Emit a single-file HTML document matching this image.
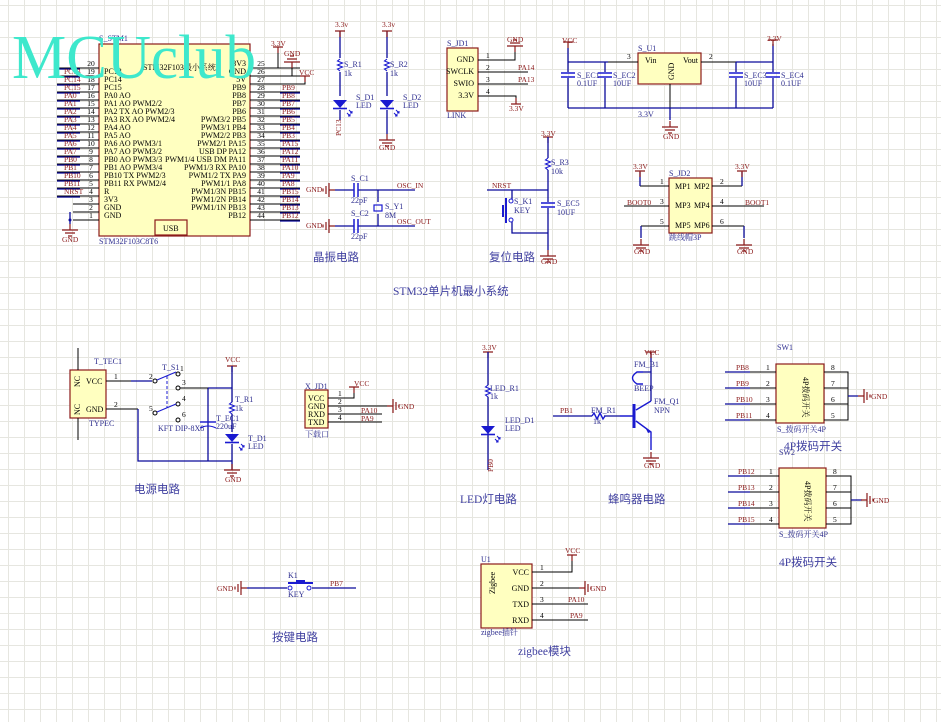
<!DOCTYPE html>
<html><head><meta charset="utf-8"><style>
html,body{margin:0;padding:0;background:#fff}
svg{display:block}
text{font-family:"Liberation Serif","Noto Serif CJK SC",serif;}
.d{fill:#303090;font-size:8px}
.r{fill:#8b1a1a;font-size:7.5px}
.k{fill:#000;font-size:7.5px}
.b{fill:#000;font-size:8px}
.cap{fill:#4040a0;font-size:11.5px;font-family:"Liberation Serif","Noto Sans CJK SC",sans-serif}
.w{stroke:#0a0a9a;stroke-width:1.3;fill:none}
.p{stroke:#000;stroke-width:1;fill:none}
.rd{stroke:#8b1a1a;stroke-width:1.2;fill:none}
.c{stroke:#1a1ad0;stroke-width:1.4;fill:none}
.box{fill:#ffffc0;stroke:#8b1a1a;stroke-width:1.2}
</style></head><body>
<svg width="941" height="722" viewBox="0 0 941 722" xmlns="http://www.w3.org/2000/svg">
<defs>
<pattern id="g" x="8" y="5" width="16" height="16" patternUnits="userSpaceOnUse">
<path d="M0 0.5H16M0.5 0V16" stroke="#e6e6e0" stroke-width="1" fill="none"/>
</pattern>
<g id="gnd"><path d="M0 -6V0M-8 0H8M-5 3H5M-2 6H2" stroke="#8b1a1a" stroke-width="1.2" fill="none"/></g>
<g id="gndl"><path d="M6 0H0M0 -7V7M-3 -4V4M-6 -1.5V1.5" stroke="#8b1a1a" stroke-width="1.2" fill="none"/></g>
<g id="gndr"><path d="M-6 0H0M0 -7V7M3 -4V4M6 -1.5V1.5" stroke="#8b1a1a" stroke-width="1.2" fill="none"/></g>
<g id="pwr"><path d="M-5 0H5M0 0V6" stroke="#8b1a1a" stroke-width="1.2" fill="none"/></g>
<g id="resv"><path d="M0 -6L-2.5 -4L2.5 -2L-2.5 0L2.5 2L-2.5 4L0 6" stroke="#1a1ad0" stroke-width="1.1" fill="none"/></g>
<g id="ledd"><path d="M-7 -4H7L0 4Z" fill="#1a1ad0"/><path d="M-7 4.5H7" stroke="#1a1ad0" stroke-width="1.6"/><path d="M9 6l3 3M12 7v2h-2M7 9l3 3M10 10v2h-2" stroke="#1a1ad0" stroke-width="1"/></g>
<g id="capv"><path d="M-7 -2H7M-7 2H7" stroke="#1a1ad0" stroke-width="1.5"/></g>
<g id="caph"><path d="M-2 -7V7M2 -7V7" stroke="#1a1ad0" stroke-width="1.5"/></g>
</defs>
<rect width="941" height="722" fill="#fff"/>
<rect width="941" height="722" fill="url(#g)"/>

<!-- STM32 -->
<rect class="box" x="99" y="44" width="151" height="192"/>
<rect class="box" x="155" y="220" width="32" height="15"/>
<text class="b" x="163" y="231">USB</text>
<text class="d" x="99" y="41">S_STM1</text>
<text class="d" x="99" y="244">STM32F103C8T6</text>
<text class="b" x="143" y="70">STM32F103最小系统</text>
<g class="p">
<path d="M57 68H99M57 76H99M57 84H99M57 92H99M57 100H99M57 108H99M57 116H99M57 124H99M57 132H99M57 140H99M57 148H99M57 156H99M57 164H99M57 172H99M57 180H99M57 188H99M57 196H99M73 204H99M73 212H99M73 220H99"/>
<path d="M250 68H300M250 76H300M250 84H300M250 92H300M250 100H300M250 108H300M250 116H300M250 124H300M250 132H300M250 140H300M250 148H300M250 156H300M250 164H300M250 172H300M250 180H300M250 188H300M250 196H300M250 204H300M250 212H300M250 220H300"/>
</g>
<g class="w"><path d="M57 69H80M57 77H80M57 85H80M57 93H80M57 101H80M57 109H80M57 117H80M57 125H80M57 133H80M57 141H80M57 149H80M57 157H80M57 165H80M57 173H80M57 181H80M57 189H80M57 197H80"/>
<path d="M280 93H300M280 101H300M280 109H300M280 117H300M280 125H300M280 133H300M280 141H300M280 149H300M280 157H300M280 165H300M280 173H300M280 181H300M280 189H300M280 197H300M280 205H300M280 213H300M280 221H300"/>
<path d="M70 212V220M70 220V224"/></g>
<path class="p" d="M250 68H278V48M250 76H292V64M250 84H305V76"/>
<use href="#pwr" x="278" y="47"/><text class="r" x="271" y="46">3.3V</text>
<g transform="translate(292,62) rotate(180)"><use href="#gnd"/></g><text class="r" x="284" y="56">GND</text>
<use href="#pwr" x="305" y="76"/><text class="r" x="299" y="75">VCC</text>
<use href="#gnd" x="70" y="230"/><text class="r" x="62" y="242">GND</text>
<circle cx="70" cy="220" r="1.5" fill="#0a0a9a"/>
<g class="k" text-anchor="middle">
<text x="91" y="66">20</text><text x="91" y="74">19</text><text x="91" y="82">18</text><text x="91" y="90">17</text><text x="91" y="98">16</text><text x="91" y="106">15</text><text x="91" y="114">14</text><text x="91" y="122">13</text><text x="91" y="130">12</text><text x="91" y="138">11</text><text x="91" y="146">10</text><text x="91" y="154">9</text><text x="91" y="162">8</text><text x="91" y="170">7</text><text x="91" y="178">6</text><text x="91" y="186">5</text><text x="91" y="194">4</text><text x="91" y="202">3</text><text x="91" y="210">2</text><text x="91" y="218">1</text>
<text x="261" y="66">25</text><text x="261" y="74">26</text><text x="261" y="82">27</text><text x="261" y="90">28</text><text x="261" y="98">29</text><text x="261" y="106">30</text><text x="261" y="114">31</text><text x="261" y="122">32</text><text x="261" y="130">33</text><text x="261" y="138">34</text><text x="261" y="146">35</text><text x="261" y="154">36</text><text x="261" y="162">37</text><text x="261" y="170">38</text><text x="261" y="178">39</text><text x="261" y="186">40</text><text x="261" y="194">41</text><text x="261" y="202">42</text><text x="261" y="210">43</text><text x="261" y="218">44</text>
</g>
<g class="r">
<text x="64" y="74">PC13</text><text x="64" y="82">PC14</text><text x="64" y="90">PC15</text><text x="64" y="98">PA0</text><text x="64" y="106">PA1</text><text x="64" y="114">PA2</text><text x="64" y="122">PA3</text><text x="64" y="130">PA4</text><text x="64" y="138">PA5</text><text x="64" y="146">PA6</text><text x="64" y="154">PA7</text><text x="64" y="162">PB0</text><text x="64" y="170">PB1</text><text x="64" y="178">PB10</text><text x="64" y="186">PB11</text><text x="64" y="194">NRST</text>
<text x="282" y="90">PB9</text><text x="282" y="98">PB8</text><text x="282" y="106">PB7</text><text x="282" y="114">PB6</text><text x="282" y="122">PB5</text><text x="282" y="130">PB4</text><text x="282" y="138">PB3</text><text x="282" y="146">PA15</text><text x="282" y="154">PA12</text><text x="282" y="162">PA11</text><text x="282" y="170">PA10</text><text x="282" y="178">PA9</text><text x="282" y="186">PA8</text><text x="282" y="194">PB15</text><text x="282" y="202">PB14</text><text x="282" y="210">PB13</text><text x="282" y="218">PB12</text>
</g>
<g class="b">
<text x="104" y="74">PC13</text><text x="104" y="82">PC14</text><text x="104" y="90">PC15</text><text x="104" y="98">PA0 AO</text><text x="104" y="106">PA1 AO PWM2/2</text><text x="104" y="114">PA2 TX AO PWM2/3</text><text x="104" y="122">PA3 RX AO PWM2/4</text><text x="104" y="130">PA4 AO</text><text x="104" y="138">PA5 AO</text><text x="104" y="146">PA6 AO PWM3/1</text><text x="104" y="154">PA7 AO PWM3/2</text><text x="104" y="162">PB0 AO PWM3/3</text><text x="104" y="170">PB1 AO PWM3/4</text><text x="104" y="178">PB10 TX PWM2/3</text><text x="104" y="186">PB11 RX PWM2/4</text><text x="104" y="194">R</text><text x="104" y="202">3V3</text><text x="104" y="210">GND</text><text x="104" y="218">GND</text>
</g>
<g class="b" text-anchor="end">
<text x="246" y="66">3V3</text><text x="246" y="74">GND</text><text x="246" y="82">5V</text><text x="246" y="90">PB9</text><text x="246" y="98">PB8</text><text x="246" y="106">PB7</text><text x="246" y="114">PB6</text><text x="246" y="122">PWM3/2 PB5</text><text x="246" y="130">PWM3/1 PB4</text><text x="246" y="138">PWM2/2 PB3</text><text x="246" y="146">PWM2/1 PA15</text><text x="246" y="154">USB DP  PA12</text><text x="246" y="162">PWM1/4 USB DM PA11</text><text x="246" y="170">PWM1/3 RX PA10</text><text x="246" y="178">PWM1/2 TX PA9</text><text x="246" y="186">PWM1/1 PA8</text><text x="246" y="194">PWM1/3N PB15</text><text x="246" y="202">PWM1/2N PB14</text><text x="246" y="210">PWM1/1N PB13</text><text x="246" y="218">PB12</text>
</g>
<text x="12" y="78" font-family="Liberation Sans,sans-serif" font-size="62" fill="#3ee8cc" textLength="244" lengthAdjust="spacingAndGlyphs">MCUclub</text>

<!-- LEDs -->
<path class="w" d="M340 31V58M340 72V96M340 110V120M387 31V58M387 72V96M387 110V134"/>
<use href="#pwr" x="340" y="31"/><use href="#pwr" x="387" y="31"/>
<text class="r" x="335" y="27">3.3v</text><text class="r" x="382" y="27">3.3v</text>
<use href="#resv" x="340" y="65"/><use href="#resv" x="387" y="65"/>
<text class="d" x="344" y="67">S_R1</text><text class="d" x="344" y="76">1k</text>
<text class="d" x="390" y="67">S_R2</text><text class="d" x="390" y="76">1k</text>
<use href="#ledd" x="340" y="104"/><use href="#ledd" x="387" y="104"/>
<text class="d" x="356" y="100">S_D1</text><text class="d" x="356" y="108">LED</text>
<text class="d" x="403" y="100">S_D2</text><text class="d" x="403" y="108">LED</text>
<text class="r" transform="translate(341,136) rotate(-90)">PC13</text>
<use href="#gnd" x="387" y="140"/><text class="r" x="379" y="150">GND</text>

<!-- S_JD1 -->
<rect class="box" x="447" y="48" width="31" height="63"/>
<text class="d" x="447" y="46">S_JD1</text><text class="d" x="447" y="118">LINK</text>
<g class="b" text-anchor="end" font-size="7.5"><text x="474" y="62">GND</text><text x="474" y="74">SWCLK</text><text x="474" y="86">SWIO</text><text x="474" y="98">3.3V</text></g>
<path class="p" d="M478 60H515V52M478 72H528M478 84H528M478 96H516V102"/>
<g class="k"><text x="486" y="58">1</text><text x="486" y="70">2</text><text x="486" y="82">3</text><text x="486" y="94">4</text></g>
<g transform="translate(515,46) rotate(180)"><use href="#gnd"/></g><text class="r" x="507" y="42">GND</text>
<text class="r" x="518" y="70">PA14</text><text class="r" x="518" y="82">PA13</text>
<g transform="translate(516,104) rotate(180)"><use href="#pwr"/></g><text class="r" x="509" y="111">3.3V</text>

<!-- Regulator -->
<rect class="box" x="638" y="53" width="63" height="31"/>
<text class="d" x="638" y="51">S_U1</text>
<text class="b" x="645" y="63">Vin</text><text class="b" x="683" y="63">Vout</text>
<text class="b" transform="translate(674,80) rotate(-90)">GND</text>
<path class="p" d="M608 62H638M701 62H736M670 84V108"/>
<text class="k" x="627" y="59">3</text><text class="k" x="709" y="59">2</text>
<path class="w" d="M568 48V62H608M568 62V72M568 78V108M605 62V72M605 78V108M568 108H773M736 62H773M736 62V72M736 78V108M773 44V72M773 78V108M670 108V120"/>
<use href="#pwr" x="568" y="42"/><text class="r" x="562" y="43">VCC</text>
<use href="#pwr" x="773" y="40"/><text class="r" x="767" y="41">3.3V</text>
<use href="#capv" x="568" y="75"/><use href="#capv" x="605" y="75"/><use href="#capv" x="736" y="75"/><use href="#capv" x="773" y="75"/>
<text class="d" x="577" y="78">S_EC1</text><text class="d" x="577" y="86">0.1UF</text>
<text class="d" x="613" y="78">S_EC2</text><text class="d" x="613" y="86">10UF</text>
<text class="d" x="744" y="78">S_EC3</text><text class="d" x="744" y="86">10UF</text>
<text class="d" x="781" y="78">S_EC4</text><text class="d" x="781" y="86">0.1UF</text>
<text class="d" x="638" y="117">3.3V</text>
<use href="#gnd" x="670" y="127"/><text class="r" x="663" y="139">GND</text>

<!-- S_JD2 -->
<rect class="box" x="669" y="178" width="43" height="55"/>
<text class="d" x="669" y="176">S_JD2</text><text class="d" x="669" y="240">跳线帽3P</text>
<g class="b" font-size="7.5"><text x="675" y="189">MP1</text><text x="694" y="189">MP2</text><text x="675" y="208">MP3</text><text x="694" y="208">MP4</text><text x="675" y="228">MP5</text><text x="694" y="228">MP6</text></g>
<path class="p" d="M640 186H669M712 186H742M624 206H669M712 206H764M641 226H669M712 226H744"/>
<path class="w" d="M640 172V186M742 172V186M641 226V238M744 226V238"/>
<g class="k"><text x="660" y="184">1</text><text x="720" y="184">2</text><text x="660" y="204">3</text><text x="720" y="204">4</text><text x="660" y="224">5</text><text x="720" y="224">6</text></g>
<use href="#pwr" x="640" y="171"/><text class="r" x="633" y="169">3.3V</text>
<use href="#pwr" x="742" y="171"/><text class="r" x="735" y="169">3.3V</text>
<text class="r" x="627" y="205">BOOT0</text><text class="r" x="745" y="205">BOOT1</text>
<use href="#gnd" x="641" y="245"/><text class="r" x="634" y="254">GND</text>
<use href="#gnd" x="744" y="245"/><text class="r" x="737" y="254">GND</text>

<!-- Crystal -->
<use href="#gndl" x="329" y="190"/><use href="#gndl" x="329" y="226"/>
<text class="r" x="306" y="192">GND</text><text class="r" x="306" y="228">GND</text>
<path class="w" d="M335 190H354M358 190H415M335 226H354M358 226H415M378 190V202M378 214V226"/>
<use href="#caph" x="356" y="190"/><use href="#caph" x="356" y="226"/>
<rect x="374" y="205" width="8" height="6" fill="none" stroke="#1a1ad0" stroke-width="1.2"/>
<text class="d" x="351" y="181">S_C1</text><text class="d" x="351" y="203">22pF</text>
<text class="d" x="351" y="216">S_C2</text><text class="d" x="351" y="239">22pF</text>
<text class="d" x="385" y="209">S_Y1</text><text class="d" x="385" y="218">8M</text>
<text class="r" x="397" y="188">OSC_IN</text><text class="r" x="397" y="224">OSC_OUT</text>
<text class="cap" x="313" y="261">晶振电路</text>

<!-- Reset -->
<use href="#pwr" x="548" y="137"/><text class="r" x="541" y="136">3.3V</text>
<path class="w" d="M548 137V158M548 170V202M548 208V250M487 190H548M512 190V199M512 222V233H548"/>
<use href="#resv" x="548" y="164"/>
<text class="d" x="551" y="165">S_R3</text><text class="d" x="551" y="174">10k</text>
<use href="#capv" x="548" y="205"/>
<text class="d" x="557" y="206">S_EC5</text><text class="d" x="557" y="215">10UF</text>
<circle cx="511" cy="201" r="2" fill="none" stroke="#1a1ad0"/><circle cx="511" cy="220" r="2" fill="none" stroke="#1a1ad0"/>
<path d="M506 198V223M503 205V217" stroke="#1a1ad0" stroke-width="2"/>
<text class="d" x="514" y="204">S_K1</text><text class="d" x="514" y="213">KEY</text>
<text class="r" x="492" y="188">NRST</text>
<use href="#gnd" x="548" y="256"/><text class="r" x="541" y="264">GND</text>
<text class="cap" x="489" y="261">复位电路</text>

<text class="cap" x="393" y="295" font-size="10.5" fill="#303090">STM32单片机最小系统</text>

<!-- Power -->
<rect class="box" x="70" y="370" width="36" height="48"/>
<text class="d" x="94" y="364">T_TEC1</text><text class="d" x="89" y="426">TYPEC</text>
<text class="b" x="86" y="384">VCC</text><text class="b" x="86" y="412">GND</text>
<text class="b" transform="translate(80,387) rotate(-90)" font-size="6.5">NC</text>
<text class="b" transform="translate(80,415) rotate(-90)" font-size="6.5">NC</text>
<path class="p" d="M78 348V370M78 418V440M106 381H131M106 409H138"/>
<text class="k" x="114" y="379">1</text><text class="k" x="114" y="407">2</text>
<path class="w" d="M131 381H152M138 409H138V461H232M208 388H232M208 388V461"/>
<circle cx="155" cy="381" r="2" fill="none" stroke="#000"/><circle cx="155" cy="413" r="2" fill="none" stroke="#000"/>
<circle cx="178" cy="374" r="2" fill="none" stroke="#000"/><circle cx="178" cy="388" r="2" fill="none" stroke="#000"/>
<circle cx="178" cy="404" r="2" fill="none" stroke="#000"/><circle cx="178" cy="420" r="2" fill="none" stroke="#000"/>
<path d="M157 380L176 372M157 412L176 404" stroke="#1a1ad0" stroke-width="1"/>
<path d="M167 376V408" stroke="#1a1ad0" stroke-dasharray="3,2"/>
<path class="p" d="M180 388H208"/>
<g class="k"><text x="180" y="371">1</text><text x="149" y="379">2</text><text x="182" y="385">3</text><text x="182" y="401">4</text><text x="149" y="411">5</text><text x="182" y="417">6</text></g>
<text class="d" x="162" y="370">T_S1</text>
<text class="d" x="158" y="431">KFT DIP-8X8</text>
<path d="M200 422H216" stroke="#1a1ad0" stroke-width="1.4"/><path d="M200 428Q208 424 216 428" stroke="#1a1ad0" fill="none"/>
<text class="d" x="216" y="421">T_EC1</text><text class="d" x="216" y="429">220uF</text>
<use href="#pwr" x="232" y="366"/><text class="r" x="225" y="362">VCC</text>
<path class="w" d="M232 366V402M232 414V432M232 444V470"/>
<use href="#resv" x="232" y="408"/>
<text class="d" x="235" y="402">T_R1</text><text class="d" x="235" y="411">1k</text>
<use href="#ledd" x="232" y="438"/>
<text class="d" x="248" y="441">T_D1</text><text class="d" x="248" y="449">LED</text>
<use href="#gnd" x="232" y="470"/><text class="r" x="225" y="482">GND</text>
<text class="cap" x="134" y="493">电源电路</text>

<!-- X_JD1 -->
<rect class="box" x="305" y="390" width="23" height="38"/>
<text class="d" x="305" y="389">X_JD1</text><text class="d" x="305" y="437">下载口</text>
<g class="b" font-size="7.5"><text x="308" y="401">VCC</text><text x="308" y="409">GND</text><text x="308" y="417">RXD</text><text x="308" y="425">TXD</text></g>
<path class="p" d="M328 398H354V388M328 406H392M328 414H382M328 422H382"/>
<g class="k"><text x="338" y="396">1</text><text x="338" y="404">2</text><text x="338" y="412">3</text><text x="338" y="420">4</text></g>
<use href="#pwr" x="354" y="387"/><text class="r" x="354" y="386">VCC</text>
<use href="#gndr" x="393" y="406"/><text class="r" x="398" y="409">GND</text>
<text class="r" x="361" y="413">PA10</text><text class="r" x="361" y="421">PA9</text>

<!-- LED circuit -->
<use href="#pwr" x="488" y="352"/><text class="r" x="482" y="350">3.3V</text>
<path class="w" d="M488 352V385M488 397V470"/>
<use href="#resv" x="488" y="391"/>
<text class="d" x="490" y="391">LED_R1</text><text class="d" x="490" y="399">1k</text>
<use href="#ledd" x="488" y="430"/>
<text class="d" x="505" y="423">LED_D1</text><text class="d" x="505" y="431">LED</text>
<text class="r" transform="translate(493,472) rotate(-90)">PB0</text>
<text class="cap" x="460" y="503">LED灯电路</text>

<!-- Buzzer -->
<text class="r" x="560" y="413">PB1</text>
<path class="w" d="M553 416H592M604 416H620M651 352V372M651 372H643M651 372V401"/>
<use href="#pwr" x="651" y="352"/><text class="r" x="644" y="355">VCC</text>
<path class="c" d="M592 416L594 413L597 419L600 413L603 419L605 416"/>
<text class="d" x="591" y="413">FM_R1</text><text class="d" x="593" y="424">1k</text>
<path d="M634 404V428" stroke="#1a1ad0" stroke-width="3"/>
<path class="c" d="M620 416H634M636 410L651 401M636 421L651 432V450"/>
<path d="M651 432L645 427L648 433Z" fill="#1a1ad0"/>
<path class="c" d="M643 372H637Q628 378 637 384H643"/>
<text class="d" x="634" y="367">FM_B1</text><text class="d" x="634" y="391">BEEP</text>
<text class="d" x="654" y="404">FM_Q1</text><text class="d" x="654" y="413">NPN</text>
<use href="#gnd" x="651" y="458"/><text class="r" x="644" y="468">GND</text>
<text class="cap" x="608" y="503">蜂鸣器电路</text>

<!-- SW1 -->
<rect class="box" x="776" y="364" width="48" height="59"/>
<text class="d" x="777" y="350">SW1</text><text class="d" x="777" y="432">S_拨码开关4P</text>
<text class="b" transform="translate(803,377) rotate(90)" font-size="7.5">4P拨码开关</text>
<path class="p" d="M750 372H776M750 388H776M750 404H776M750 420H776M824 372H848V420H824M824 388H848M824 404H848"/>
<path class="w" d="M725 372H750M725 388H750M725 404H750M725 420H750M848 396H858"/>
<g class="k"><text x="766" y="370">1</text><text x="766" y="386">2</text><text x="766" y="402">3</text><text x="766" y="418">4</text><text x="831" y="370">8</text><text x="831" y="386">7</text><text x="831" y="402">6</text><text x="831" y="418">5</text></g>
<g class="r"><text x="736" y="370">PB8</text><text x="736" y="386">PB9</text><text x="736" y="402">PB10</text><text x="736" y="418">PB11</text></g>
<use href="#gndr" x="864" y="396"/><text class="r" x="871" y="399">GND</text>
<text class="cap" x="784" y="450">4P拨码开关</text>
<!-- SW2 -->
<rect class="box" x="779" y="468" width="47" height="60"/>
<text class="d" x="779" y="455">SW2</text><text class="d" x="779" y="537">S_拨码开关4P</text>
<text class="b" transform="translate(805,481) rotate(90)" font-size="7.5">4P拨码开关</text>
<path class="p" d="M750 476H779M750 492H779M750 508H779M750 524H779M826 476H851V524H826M826 492H851M826 508H851"/>
<path class="w" d="M728 476H750M728 492H750M728 508H750M728 524H750M851 500H862"/>
<g class="k"><text x="769" y="474">1</text><text x="769" y="490">2</text><text x="769" y="506">3</text><text x="769" y="522">4</text><text x="833" y="474">8</text><text x="833" y="490">7</text><text x="833" y="506">6</text><text x="833" y="522">5</text></g>
<g class="r"><text x="738" y="474">PB12</text><text x="738" y="490">PB13</text><text x="738" y="506">PB14</text><text x="738" y="522">PB15</text></g>
<use href="#gndr" x="867" y="500"/><text class="r" x="873" y="503">GND</text>
<text class="cap" x="779" y="566">4P拨码开关</text>

<!-- Key -->
<use href="#gndl" x="241" y="588"/><text class="r" x="217" y="591">GND</text>
<path class="w" d="M247 588H287M312 588H356"/>
<circle cx="290" cy="588" r="2" fill="none" stroke="#1a1ad0"/><circle cx="309" cy="588" r="2" fill="none" stroke="#1a1ad0"/>
<path d="M288 583H313M296 581H305" stroke="#1a1ad0" stroke-width="2"/>
<text class="d" x="288" y="578">K1</text><text class="d" x="288" y="597">KEY</text>
<text class="r" x="330" y="586">PB7</text>
<text class="cap" x="272" y="641">按键电路</text>

<!-- Zigbee -->
<rect class="box" x="481" y="564" width="51" height="64"/>
<text class="d" x="481" y="562">U1</text><text class="d" x="481" y="635">zigbee插针</text>
<text class="b" transform="translate(495,594) rotate(-90)" font-size="7.5">Zigbee</text>
<g class="b" font-size="7.5" text-anchor="end"><text x="529" y="575">VCC</text><text x="529" y="591">GND</text><text x="529" y="607">TXD</text><text x="529" y="623">RXD</text></g>
<path class="p" d="M532 572H572V556M532 588H584M532 604H588M532 620H588"/>
<g class="k"><text x="540" y="570">1</text><text x="540" y="586">2</text><text x="540" y="602">3</text><text x="540" y="618">4</text></g>
<use href="#pwr" x="572" y="555"/><text class="r" x="565" y="553">VCC</text>
<use href="#gndr" x="585" y="588"/><text class="r" x="590" y="591">GND</text>
<text class="r" x="568" y="602">PA10</text><text class="r" x="570" y="618">PA9</text>
<text class="cap" x="518" y="655">zigbee模块</text>
</svg>
</body></html>
